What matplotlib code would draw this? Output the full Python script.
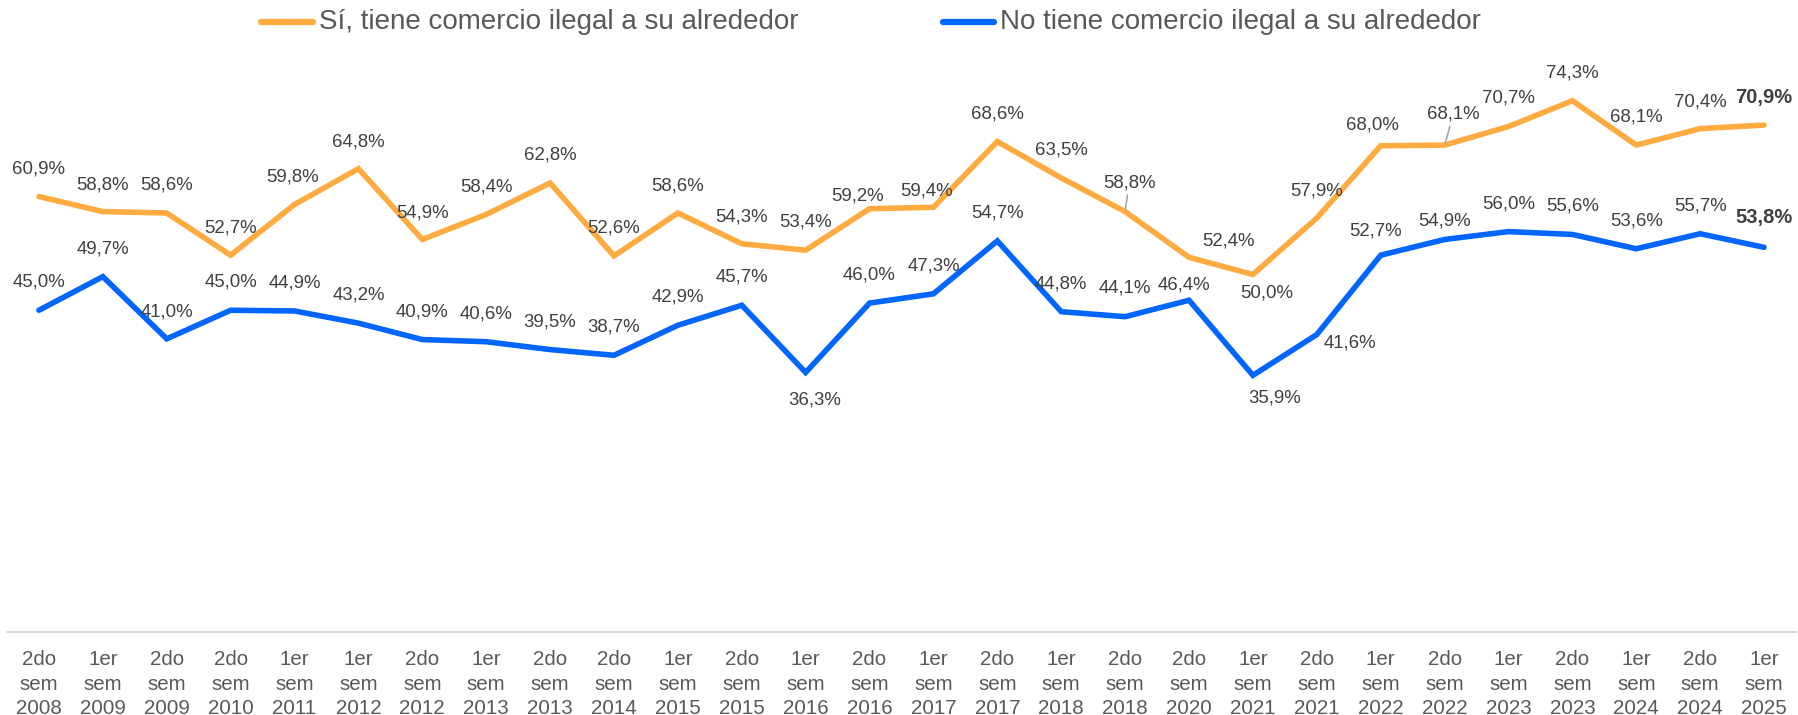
import matplotlib
matplotlib.use("Agg")
import matplotlib.pyplot as plt
from matplotlib.lines import Line2D

plt.rcParams['font.family'] = ['Liberation Sans', 'DejaVu Sans']

# ---- data ----
categories = ["2do\nsem\n2008", "1er\nsem\n2009", "2do\nsem\n2009", "2do\nsem\n2010",
              "1er\nsem\n2011", "1er\nsem\n2012", "2do\nsem\n2012", "1er\nsem\n2013",
              "2do\nsem\n2013", "2do\nsem\n2014", "1er\nsem\n2015", "2do\nsem\n2015",
              "1er\nsem\n2016", "2do\nsem\n2016", "1er\nsem\n2017", "2do\nsem\n2017",
              "1er\nsem\n2018", "2do\nsem\n2018", "2do\nsem\n2020", "1er\nsem\n2021",
              "2do\nsem\n2021", "1er\nsem\n2022", "2do\nsem\n2022", "1er\nsem\n2023",
              "2do\nsem\n2023", "1er\nsem\n2024", "2do\nsem\n2024", "1er\nsem\n2025"]
si_values = [60.9, 58.8, 58.6, 52.7, 59.8, 64.8, 54.9, 58.4, 62.8, 52.6, 58.6, 54.3, 53.4, 59.2,
             59.4, 68.6, 63.5, 58.8, 52.4, 50.0, 57.9, 68.0, 68.1, 70.7, 74.3, 68.1, 70.4, 70.9]
no_values = [45.0, 49.7, 41.0, 45.0, 44.9, 43.2, 40.9, 40.6, 39.5, 38.7, 42.9, 45.7, 36.3, 46.0,
             47.3, 54.7, 44.8, 44.1, 46.4, 35.9, 41.6, 52.7, 54.9, 56.0, 55.6, 53.6, 55.7, 53.8]
si_label = "Sí, tiene comercio ilegal a su alrededor"
no_label = "No tiene comercio ilegal a su alrededor"

# ---- styles ----
ORANGE = "#FFAB40"
BLUE = "#0066FF"
LABEL_C = "#404040"
TICK_C = "#595959"
LEADER_C = "#A6A6A6"

# label offsets in pixels (dx, dy up)
si_off = [(0, 28), (0, 27), (0, 28), (0, 27), (-2, 27), (0, 27), (0, 26), (0, 27), (0, 28), (0, 28),
          (0, 27), (0, 27), (0, 28), (-12, 13), (-7, 16), (0, 28), (0, 28), (4, 29), (39, 16), (14, -18),
          (0, 27), (-8, 21), (9, 31), (0, 28), (0, 28), (0, 28), (0, 27), (0, 28)]
no_off = [(0, 28), (0, 28), (0, 27), (0, 28), (0, 28), (0, 28), (0, 28), (0, 28), (0, 28), (0, 28),
          (0, 28), (0, 28), (9, -28), (0, 28), (0, 28), (0, 28), (0, 28), (0, 29), (-5, 15), (22, -23),
          (33, -8), (-5, 24), (0, 18), (0, 28), (0, 28), (0, 28), (0, 28), (0, 30)]
si_leader = {17, 22}

W, H = 1798, 715
fig = plt.figure(figsize=(W / 100, H / 100), dpi=100)
ax = fig.add_axes([7 / W, 83 / H, 1789 / W, 572 / H])

x = list(range(len(categories)))
ax.plot(x, si_values, color=ORANGE, lw=4.0, solid_joinstyle='miter', solid_capstyle='round')
ax.plot(x, no_values, color=BLUE, lw=4.0, solid_joinstyle='miter', solid_capstyle='round')

ax.set_xlim(-0.5, len(categories) - 0.5)
ax.set_ylim(0, 80)
ax.set_yticks([])
ax.set_xticks(x)
ax.set_xticklabels(categories, fontsize=14.8, color=TICK_C, linespacing=1.38)
ax.tick_params(axis='x', length=0, pad=13)
for s in ['top', 'right', 'left']:
    ax.spines[s].set_visible(False)
ax.spines['bottom'].set_color("#D9D9D9")
ax.spines['bottom'].set_linewidth(1.5)


def fmt(v):
    return f"{v:.1f}".replace(".", ",") + "%"


def put_labels(vals, offs, leaders=()):
    n = len(vals)
    for i, v in enumerate(vals):
        last = (i == n - 1)
        kw = dict(fontsize=14.5 if last else 13.4, fontweight='bold' if last else 'normal',
                  color=LABEL_C, ha='center', va='center')
        if i in leaders:
            ax.annotate(fmt(v), xy=(i, v), xytext=offs[i], textcoords='offset pixels',
                        arrowprops=dict(arrowstyle='-', color=LEADER_C, lw=1.2,
                                        shrinkA=1, shrinkB=1), **kw)
        else:
            ax.annotate(fmt(v), xy=(i, v), xytext=offs[i], textcoords='offset pixels', **kw)


put_labels(si_values, si_off, si_leader)
put_labels(no_values, no_off)

# legend (manual, figure coordinates)
ly = 1 - 22 / H
fig.add_artist(Line2D([261 / W, 313 / W], [ly, ly], color=ORANGE, lw=4.5, solid_capstyle='round'))
fig.text(319 / W, ly, si_label, fontsize=20, color=TICK_C, va='center', ha='left')
fig.add_artist(Line2D([943 / W, 994 / W], [ly, ly], color=BLUE, lw=4.5, solid_capstyle='round'))
fig.text(1000 / W, ly, no_label, fontsize=20, color=TICK_C, va='center', ha='left')

fig.savefig("out.png", dpi=100, facecolor='white')
